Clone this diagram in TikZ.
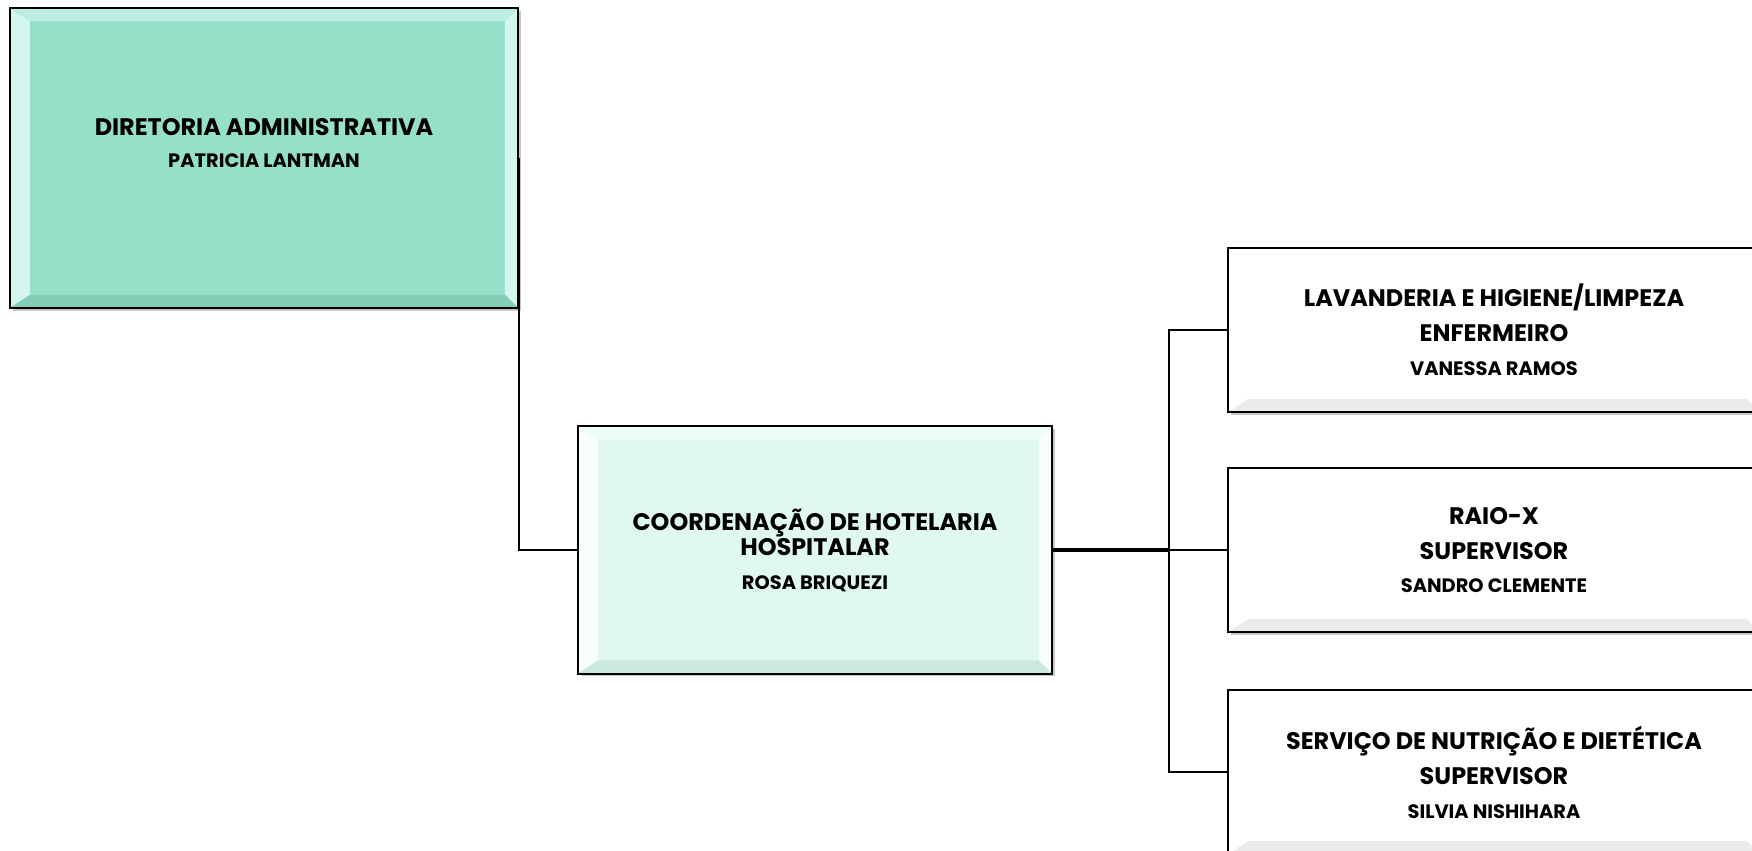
\documentclass[tikz,border=0pt]{standalone}
\usepackage{fontspec}
\setmainfont{Poppins}
\usetikzlibrary{shadows,calc}

\definecolor{verde}{HTML}{96E0CA}
\definecolor{verdeclaro}{HTML}{D4F6EE}
\definecolor{verdeescuro}{HTML}{84CDB7}
\definecolor{agua}{HTML}{E0F8F2}
\definecolor{aguaclaro}{HTML}{F7FEFC}
\definecolor{aguaescuro}{HTML}{CBE9E1}
\definecolor{cinzaclaro}{HTML}{FFFFFF}
\definecolor{cinzaescuro}{HTML}{EBEBEB}

\newcommand{\setor}[1]{{\fontsize{17}{24}\selectfont #1}}
\newcommand{\nome}[1]{{\fontsize{13.8}{24}\selectfont #1}}

\tikzset{
  caixa/.style n args={3}{draw=black, line width=1.5pt, fill=#1, align=center,
    font=\bfseries\fontsize{13.8}{24}\selectfont,
    drop shadow={shadow xshift=0.07cm, shadow yshift=-0.07cm, opacity=0.45},
    path picture={
      \coordinate (sw) at (path picture bounding box.south west);
      \coordinate (ne) at (path picture bounding box.north east);
      \coordinate (nw) at (sw |- ne);
      \coordinate (se) at (ne |- sw);
      \fill[#2] (sw) -- (nw) -- ($(nw)+(.5cm,-.33cm)$) -- ($(sw)+(.5cm,.33cm)$) -- cycle;
      \fill[#2] (se) -- (ne) -- ($(ne)+(-.33cm,-.33cm)$) -- ($(se)+(-.33cm,.33cm)$) -- cycle;
      \fill[#2!60!#1] (nw) -- (ne) -- ($(ne)+(-.33cm,-.33cm)$) -- ($(nw)+(.5cm,-.33cm)$) -- cycle;
      \fill[#3] (sw) -- (se) -- ($(se)+(-.33cm,.33cm)$) -- ($(sw)+(.5cm,.33cm)$) -- cycle;
    }},
  linha/.style={line width=1.6pt},
}

\begin{document}
\begin{tikzpicture}[x=0.025cm, y=-0.025cm]
  \useasboundingbox (0,0) rectangle (1752,850);

  \node[caixa={verde}{verdeclaro}{verdeescuro}, minimum width=12.7cm, minimum height=7.5cm, text depth=0.75cm]
    (dir) at (264,158) {\setor{DIRETORIA ADMINISTRATIVA}\\[-1pt]\nome{PATRICIA LANTMAN}};
  \node[caixa={agua}{aguaclaro}{aguaescuro}, minimum width=11.85cm, minimum height=6.18cm]
    (coord) at (815,550) {\setor{COORDENAÇÃO DE HOTELARIA}\\[-6pt]\setor{HOSPITALAR}\\\nome{ROSA BRIQUEZI}};

  \node[caixa={white}{cinzaclaro}{cinzaescuro}, minimum width=13.3cm, minimum height=4.12cm]
    (lav) at (1494,330) {\setor{LAVANDERIA E HIGIENE/LIMPEZA}\\[1pt]\setor{ENFERMEIRO}\\\nome{VANESSA RAMOS}};
  \node[caixa={white}{cinzaclaro}{cinzaescuro}, minimum width=13.3cm, minimum height=4.12cm]
    (raio) at (1494,550) {\setor{RAIO-X}\\[1pt]\setor{SUPERVISOR}\\\nome{SANDRO CLEMENTE}};
  \node[caixa={white}{cinzaclaro}{cinzaescuro}, minimum width=13.3cm, minimum height=4.12cm]
    (nut) at (1494,772) {\setor{SERVIÇO DE NUTRIÇÃO E DIETÉTICA}\\[1pt]\setor{SUPERVISOR}\\\nome{SILVIA NISHIHARA}};

  \coordinate (bus) at (1169,550);

  \draw[linha] (dir.east) |- (coord.west);
  \draw[line width=2.2pt] (coord.east) -- (bus);
  \draw[linha] (bus) |- (lav.west);
  \draw[linha] (bus) -- (raio.west);
  \draw[linha] (bus) |- (nut.west);
\end{tikzpicture}
\end{document}
